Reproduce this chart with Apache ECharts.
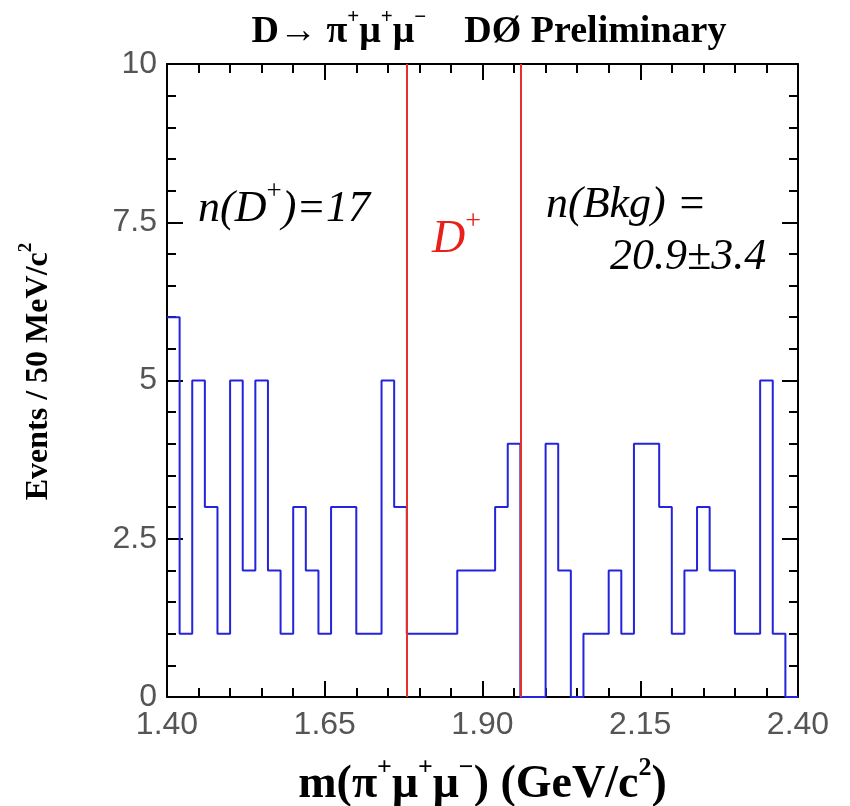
<!DOCTYPE html>
<html>
<head>
<meta charset="utf-8">
<script src="https://cdn.jsdelivr.net/npm/echarts@6/dist/echarts.min.js"></script>
<style>
  html, body { margin: 0; padding: 0; background: #fff; }
  #chart { width: 850px; height: 806px; }
</style>
</head>
<body>
<div id="chart"></div>
<script>
// histogram: 20 MeV bins from 1.40 to 2.40 GeV
const binLow = 1.40;
const binWidth = 0.02;
const counts = [
  6, 1, 5, 3, 1, 5, 2, 5, 2, 1,
  3, 2, 1, 3, 3, 1, 1, 5, 3, 1,
  1, 1, 1, 2, 2, 2, 3, 4, 0, 0,
  4, 2, 0, 1, 1, 2, 1, 4, 4, 3,
  1, 2, 3, 2, 2, 1, 1, 5, 1, 0
];
// signal window edges (GeV)
const signalWindow = [1.78, 1.96];
const xTicks = { min: 1.40, max: 2.40, step: 0.25 };
const yTicks = { min: 0, max: 10, step: 2.5 };

const serif = 'Liberation Serif';
const sans = 'Liberation Sans';

// step points: left edge of each bin, then the last right edge
const steps = counts.map((c, i) => [+(binLow + i * binWidth).toFixed(2), c]);
steps.push([+(binLow + counts.length * binWidth).toFixed(2), counts[counts.length - 1]]);

const chart = echarts.init(document.getElementById('chart'), null, { renderer: 'canvas' });

// superscript token: sits at the top of a tall line box
function sup(size, extra) {
  return Object.assign({ fontFamily: serif, fontSize: size, verticalAlign: 'top' }, extra);
}

const tickLine = { color: '#000', width: 2 };
function frameAxis(extra) {
  return Object.assign({
    type: 'value',
    axisLine: { show: true, onZero: false, lineStyle: { color: '#000', width: 2 } },
    axisTick: { show: true, inside: true, length: 16, lineStyle: tickLine },
    minorTick: { show: true, splitNumber: 5, length: 9, lineStyle: tickLine },
    splitLine: { show: false },
    minorSplitLine: { show: false }
  }, extra);
}
const labelStyle = { fontFamily: sans, fontSize: 32, color: '#555' };

const option = {
  animation: false,
  backgroundColor: '#fff',
  title: {
    text: 'D\u2192 \u03c0{sup|+}\u03bc{sup|+}\u03bc{sup|\u2212}    D\u00d8 Preliminary',
    left: 484,
    top: 2,
    textAlign: 'center',
    textStyle: {
      fontFamily: serif, fontWeight: 'bold', fontSize: 38, lineHeight: 50, color: '#000',
      rich: { sup: sup(21, { fontWeight: 'bold', color: '#000' }) }
    }
  },
  grid: { left: 167, right: 52, top: 64, bottom: 109, outerBoundsMode: 'none' },
  xAxis: [
    frameAxis({
      min: xTicks.min, max: xTicks.max, interval: xTicks.step, position: 'bottom',
      axisLabel: Object.assign({ margin: 12, formatter: v => v.toFixed(2) }, labelStyle),
      name: 'm(\u03c0{sup|+}\u03bc{sup|+}\u03bc{sup|\u2212}) (GeV/c{sup|2})',
      nameLocation: 'middle',
      nameGap: 58,
      nameTextStyle: {
        fontFamily: serif, fontWeight: 'bold', fontSize: 46, lineHeight: 60, color: '#000',
        rich: { sup: sup(26, { fontWeight: 'bold', color: '#000' }) }
      }
    }),
    frameAxis({
      min: xTicks.min, max: xTicks.max, interval: xTicks.step, position: 'top',
      axisLabel: { show: false }
    })
  ],
  yAxis: [
    frameAxis({
      min: yTicks.min, max: yTicks.max, interval: yTicks.step, position: 'left',
      axisLabel: Object.assign({ margin: 10 }, labelStyle),
      name: 'Events / 50 MeV/c{sup|2}',
      nameLocation: 'middle',
      nameRotate: 90,
      nameGap: 106,
      nameTextStyle: {
        fontFamily: serif, fontWeight: 'bold', fontSize: 32, lineHeight: 44, color: '#000',
        padding: [0, 0, 0, 18],
        rich: { sup: sup(19, { fontWeight: 'bold', color: '#000' }) }
      }
    }),
    frameAxis({
      min: yTicks.min, max: yTicks.max, interval: yTicks.step, position: 'right',
      axisLabel: { show: false }
    })
  ],
  series: [{
    type: 'line',
    step: 'end',
    data: steps,
    symbol: 'none',
    lineStyle: { color: '#2424dc', width: 2 },
    z: 3,
    markLine: {
      silent: true,
      symbol: 'none',
      label: { show: false },
      lineStyle: { color: '#e8302a', width: 2, type: 'solid' },
      data: signalWindow.map(x => ({ xAxis: x }))
    }
  }],
  graphic: [
    {
      type: 'text', left: 198, top: 178,
      style: {
        text: 'n(D{sup|+})=17',
        fontFamily: serif, fontStyle: 'italic', fontSize: 44, lineHeight: 63, fill: '#000',
        rich: { sup: sup(27, { fill: '#000' }) }
      }
    },
    {
      type: 'text', left: 432, top: 208,
      style: {
        text: 'D{sup|+}',
        fontFamily: serif, fontStyle: 'italic', fontSize: 46, lineHeight: 63, fill: '#e8201a',
        rich: { sup: sup(28, { fill: '#e8201a' }) }
      }
    },
    {
      type: 'text', left: 546, top: 181,
      style: { text: 'n(Bkg) =', fontFamily: serif, fontStyle: 'italic', fontSize: 44, lineHeight: 48, fill: '#000' }
    },
    {
      type: 'text', left: 610, top: 233,
      style: { text: '20.9\u00b13.4', fontFamily: serif, fontStyle: 'italic', fontSize: 44, lineHeight: 48, fill: '#000' }
    }
  ]
};

chart.setOption(option);
</script>
</body>
</html>
